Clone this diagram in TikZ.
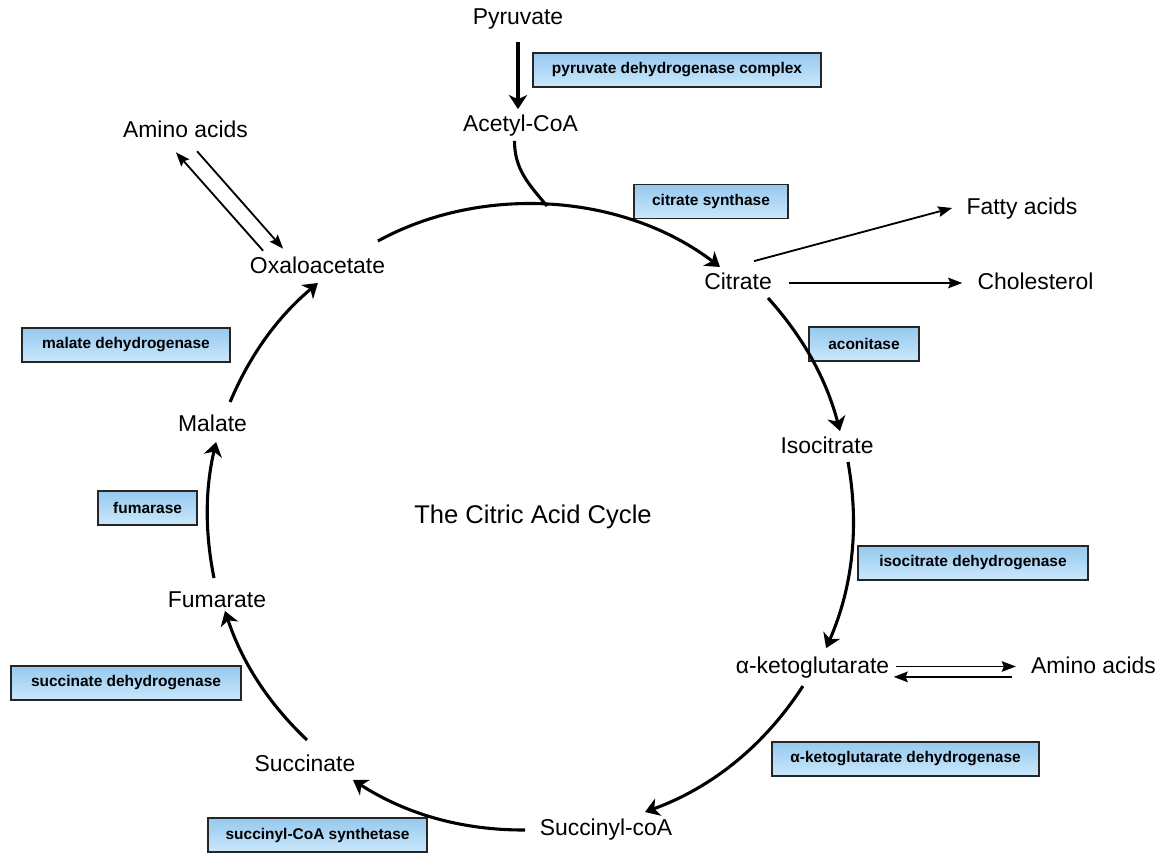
\documentclass[tikz,border=0pt]{standalone}
\usepackage{fontspec}
\setmainfont{Liberation Sans}
\usetikzlibrary{arrows.meta}
\definecolor{enzhi}{RGB}{150,200,238}
\definecolor{enzlo}{RGB}{202,232,252}

\begin{document}
\begin{tikzpicture}[>={Stealth[length=10pt, width=7.5pt, inset=1.5pt]},
    met/.style={font=\fontsize{16.3}{19}\selectfont, text height=0.45cm, text depth=0.12cm, inner sep=0.105cm},
    enz/.style={rectangle, draw=black!85, line width=0.9pt, top color=enzhi, bottom color=enzlo,
                font=\fontsize{11}{13}\selectfont\bfseries, minimum height=0.85cm, text centered},
    cyc/.style={-{Stealth[length=10pt, width=13pt, inset=3pt]}, line width=2.2pt, looseness=0.9},
    feed/.style={line width=2.2pt},
    side/.style={->, line width=1.3pt}]

    \useasboundingbox (0,0) rectangle (29.1,21.325);

    % ---------------- enzimi ----------------
    \node (pdc)  [enz, minimum width=7.2cm]   at (16.925,19.575) {pyruvate dehydrogenase complex};
    \node (cs)   [enz, minimum width=3.85cm]  at (17.775,16.29)  {citrate synthase};
    \node (aco)  [enz, minimum width=2.75cm]  at (21.6,12.725)   {aconitase};
    \node (icdh) [enz, minimum width=5.75cm]  at (24.325,7.25)   {isocitrate dehydrogenase};
    \node (kgdh) [enz, minimum width=6.675cm] at (22.64,2.35)    {α-ketoglutarate dehydrogenase};
    \node (scs)  [enz, minimum width=5.475cm] at (7.94,0.45)     {succinyl-CoA synthetase};
    \node (sdh)  [enz, minimum width=5.75cm]  at (3.15,4.25)     {succinate dehydrogenase};
    \node (fh)   [enz, minimum width=2.475cm] at (3.69,8.625)    {fumarase};
    \node (mdh)  [enz, minimum width=5.2cm]   at (3.15,12.7)     {malate dehydrogenase};

    % ---------------- metaboliti ----------------
    \node (pyr)  [met] at (12.95,20.875)  {Pyruvate};
    \node (acoa) [met] at (13.0125,18.2)  {Acetyl-CoA};
    \node (cit)  [met] at (18.45,14.25)   {Citrate};
    \node (fat)  [met] at (25.55,16.125)  {Fatty acids};
    \node (chol) [met] at (25.8875,14.25) {Cholesterol};
    \node (iso)  [met] at (20.675,10.15)  {Isocitrate};
    \node (akg)  [met] at (20.3125,4.6625) {α-ketoglutarate};
    \node (amr)  [met] at (27.3375,4.6625) {Amino acids};
    \node (sca)  [met] at (15.15,0.6)     {Succinyl-coA};
    \node (suc)  [met] at (7.625,2.2)     {Succinate};
    \node (fum)  [met] at (5.425,6.3)     {Fumarate};
    \node (mal)  [met] at (5.3125,10.7)   {Malate};
    \node (oxa)  [met] at (7.9375,14.66)  {Oxaloacetate};
    \node (aml)  [met] at (4.6375,18.04)  {Amino acids};
    \node (title) [font=\fontsize{18.2}{22}\selectfont] at (13.325,8.4) {The Citric Acid Cycle};

    \coordinate (acjoin) at (13.675,16.175);

    % ---------------- ciklus ----------------
    \draw [cyc, shorten <=0.2cm] (pyr.south) -- (pyr.south |- acoa.north);
    \draw [feed] ([xshift=-0.15cm]acoa.south) to[out=-90, in=130] (acjoin);
    \draw [cyc] ([shift={(1.51,0.64)}]oxa.center) to[bend left=33] ([shift={(-0.45,0.4)}]cit.center);
    \draw [cyc] ([shift={(0.75,-0.375)}]cit.center) to[bend left=13.6] ([shift={(0.325,0.4)}]iso.center);
    \draw [cyc] ([shift={(0.525,-0.375)}]iso.center) to[bend left=16.9] ([shift={(0.34,0.46)}]akg.center);
    \draw [cyc] ([shift={(-0.24,-0.49)}]akg.center) to[bend left=18.5] ([shift={(0.975,0.425)}]sca.center);
    \draw [cyc] ([shift={(-2.025,-0.025)}]sca.center) to[bend left=16.5] ([shift={(1.2,-0.375)}]suc.center);
    \draw [cyc] ([shift={(0.05,0.625)}]suc.center) to[bend left=14] ([shift={(0.2,-0.25)}]fum.center);
    \draw [cyc] ([shift={(-0.075,0.575)}]fum.center) to[bend left=12.2] ([shift={(0.09,-0.425)}]mal.center);
    \draw [cyc] ([shift={(0.44,0.575)}]mal.center) to[bend left=13.5] ([shift={(0.01,-0.41)}]oxa.center);

    % ---------------- sporedni putevi ----------------
    \draw [side] ([xshift=0.4cm, yshift=0.15cm]cit.north) -- ([xshift=-0.25cm]fat.west);
    \draw [side, shorten <=0.33cm, shorten >=0.27cm] (cit) -- (chol);
    \draw [side] ([xshift=0.07cm]akg.east) -- ([xshift=-0.27cm]amr.west);
    \draw [side] ([xshift=-0.37cm, yshift=-0.26cm]amr.west) -- ([yshift=-0.26cm]akg.east);
    \draw [side] ([xshift=-1.36cm]oxa.north) -- ([xshift=-0.24cm, yshift=-0.125cm]aml.south);
    \draw [side] ([xshift=0.29cm, yshift=-0.1cm]aml.south) -- ([xshift=-0.86cm, yshift=0.05cm]oxa.north);
\end{tikzpicture}
\end{document}
